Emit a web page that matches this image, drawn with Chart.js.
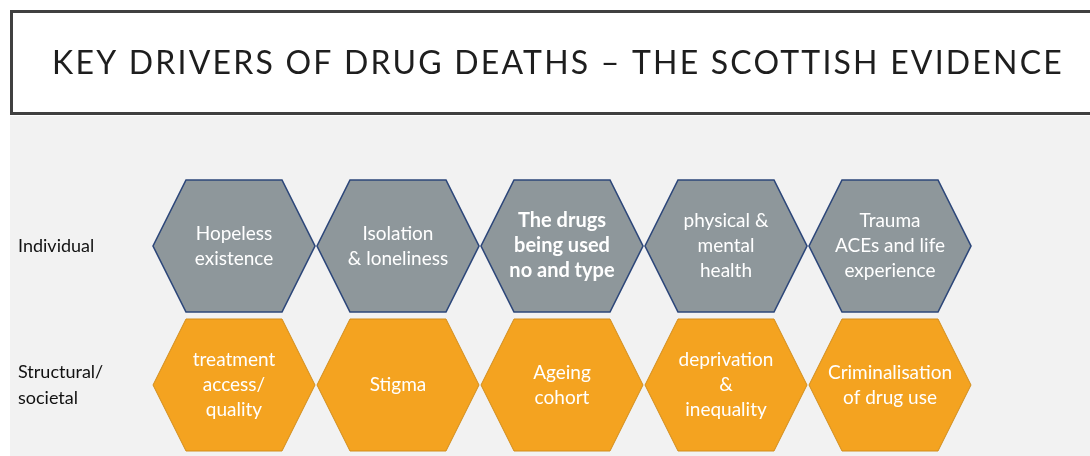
<!DOCTYPE html>
<html>
<head>
<meta charset="utf-8">
<script src="https://cdn.jsdelivr.net/npm/chart.js@4.4.1/dist/chart.umd.min.js"></script>
<style>
  html, body { margin: 0; padding: 0; background: #fff; }
  #wrap { width: 1090px; height: 456px; }
</style>
</head>
<body>
<div id="wrap"><canvas id="slide" width="1090" height="456"></canvas></div>
<script>
// slide content
const title = 'KEY DRIVERS OF DRUG DEATHS \u2013 THE SCOTTISH EVIDENCE';
const rows = ['Individual', 'Structural/ societal'];
const columns = ['1', '2', '3', '4', '5'];
const individual = [
  ['Hopeless', 'existence'],
  ['Isolation', '& loneliness'],
  ['The drugs', 'being used', 'no and type'],
  ['physical &', 'mental', 'health'],
  ['Trauma', 'ACEs and life', 'experience']
];
const structural = [
  ['treatment', 'access/', 'quality'],
  ['Stigma'],
  ['Ageing', 'cohort'],
  ['deprivation', '&', 'inequality'],
  ['Criminalisation', 'of drug use']
];

Chart.defaults.font.family = 'Lato';

// hexagon used as point style
function hexagon(fill, stroke, lw) {
  const hw = 81, hh = 66, inset = 33, pad = 2;
  const c = document.createElement('canvas');
  c.width = hw * 2 + pad * 2;
  c.height = hh * 2 + pad * 2;
  const g = c.getContext('2d');
  g.translate(hw + pad, hh + pad);
  g.beginPath();
  g.moveTo(-hw, 0);
  g.lineTo(-hw + inset, -hh);
  g.lineTo(hw - inset, -hh);
  g.lineTo(hw, 0);
  g.lineTo(hw - inset, hh);
  g.lineTo(-hw + inset, hh);
  g.closePath();
  g.fillStyle = fill;
  g.fill();
  g.lineWidth = lw;
  g.strokeStyle = stroke;
  g.stroke();
  return c;
}

const frame = {
  id: 'frame',
  beforeDraw(chart) {
    const ctx = chart.ctx;
    ctx.save();
    ctx.fillStyle = '#ffffff';
    ctx.fillRect(0, 0, chart.width, chart.height);
    ctx.fillStyle = '#f2f2f2';
    ctx.fillRect(10, 116, chart.width, chart.height);
    ctx.lineWidth = 3;
    ctx.strokeStyle = '#404040';
    ctx.strokeRect(11.5, 11.5, chart.width + 20, 102);
    ctx.font = '32px Lato';
    ctx.letterSpacing = '2.2px';
    ctx.fillStyle = '#1e1e1e';
    ctx.textAlign = 'center';
    ctx.textBaseline = 'alphabetic';
    ctx.fillText(title, 558, 74);
    ctx.restore();
  }
};

const cellText = {
  id: 'cellText',
  afterDatasetsDraw(chart, args, opts) {
    const ctx = chart.ctx;
    chart.data.datasets.forEach((ds, d) => {
      const meta = chart.getDatasetMeta(d);
      meta.data.forEach((pt, i) => {
        const lines = ds.texts[i];
        const bold = opts.bold.some(b => b[0] === d && b[1] === i);
        ctx.save();
        ctx.font = (bold ? 'bold 20px' : '19px') + ' Lato';
        ctx.fillStyle = '#ffffff';
        ctx.textAlign = 'center';
        ctx.textBaseline = 'middle';
        const lh = 25;
        const y0 = pt.y - (lines.length - 1) * lh / 2;
        lines.forEach((t, k) => ctx.fillText(t, pt.x, y0 + k * lh));
        ctx.restore();
      });
    });
  }
};

new Chart(document.getElementById('slide'), {
  type: 'scatter',
  data: {
    datasets: [{
      label: rows[0],
      data: columns.map(c => ({ x: c, y: rows[0] })),
      texts: individual,
      pointStyle: hexagon('#8e979b', '#2d477a', 1.6),
      pointRadius: 1,
      clip: false
    }, {
      label: rows[1],
      data: columns.map(c => ({ x: c, y: rows[1] })),
      texts: structural,
      pointStyle: hexagon('#f4a320', '#d18d1d', 1),
      pointRadius: 1,
      clip: false
    }]
  },
  options: {
    responsive: false,
    animation: false,
    events: [],
    layout: {
      autoPadding: false,
      padding: { left: 18, right: 118, top: 176.5, bottom: 1.5 }
    },
    plugins: {
      legend: { display: false },
      tooltip: { enabled: false },
      cellText: { bold: [[0, 2]] }
    },
    scales: {
      x: {
        type: 'category',
        labels: columns,
        offset: true,
        display: false
      },
      y: {
        type: 'category',
        labels: rows,
        offset: true,
        grid: { display: false },
        border: { display: false },
        ticks: {
          crossAlign: 'far',
          padding: 0,
          color: '#111111',
          font: { size: 18, lineHeight: 1.45 },
          callback: v => rows[v].split(' ')
        },
        afterFit: s => {
          s.width = 134;
          s.paddingTop = 0;
          s.paddingBottom = 0;
        }
      }
    }
  },
  plugins: [frame, cellText]
});
</script>
</body>
</html>
